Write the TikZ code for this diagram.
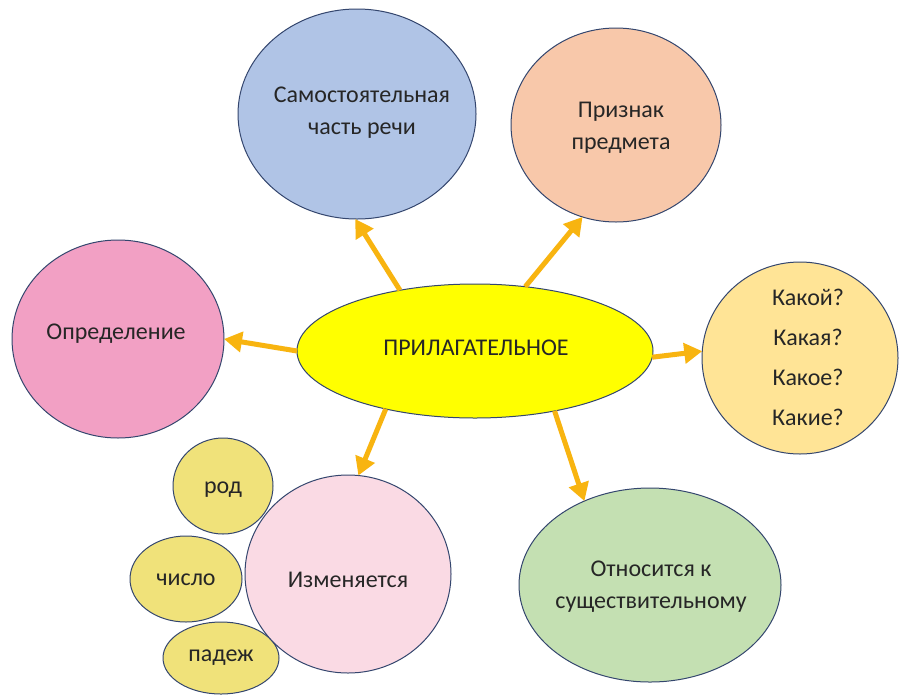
\documentclass[tikz,border=0pt]{standalone}
\usepackage{fontspec}
\setmainfont{Carlito}
\usetikzlibrary{shapes.geometric,arrows.meta}
\definecolor{edge}{RGB}{52,70,110}
\definecolor{gold}{RGB}{248,180,16}
\definecolor{cblue}{RGB}{176,196,230}
\definecolor{corange}{RGB}{248,200,170}
\definecolor{cpink}{RGB}{242,160,196}
\definecolor{cyellow}{RGB}{255,255,0}
\definecolor{cquest}{RGB}{255,228,150}
\definecolor{clpink}{RGB}{250,218,228}
\definecolor{csmall}{RGB}{240,226,122}
\definecolor{cgreen}{RGB}{196,224,178}
\tikzset{
  bub/.style={ellipse, draw=edge, line width=1pt, inner sep=0pt, outer sep=0pt},
  txt/.style={font=\fontsize{24}{32}\selectfont, text=black!85, align=center, inner sep=0pt},
  arr/.style={draw=gold, line width=5pt, -{Triangle[length=18pt,width=20pt]}}
}
\begin{document}
\begin{tikzpicture}[x=1pt,y=-1pt]
\useasboundingbox (0,0) rectangle (901,694);
\fill[white] (0,0) rectangle (901,694);
% small circles
\node[bub, fill=csmall, minimum width=100, minimum height=96] (rod) at (223,486) {};
\node[bub, fill=csmall, minimum width=112, minimum height=86] (chislo) at (186,579) {};
\node[bub, fill=csmall, minimum width=116, minimum height=72] (padezh) at (221,658) {};
% main bubbles
\node[bub, fill=cblue, minimum width=238, minimum height=210] (sam) at (357,114) {};
\node[bub, fill=corange, minimum width=210, minimum height=194] (priz) at (616,125) {};
\node[bub, fill=cpink, minimum width=212, minimum height=198] (opr) at (118,339) {};
\node[bub, fill=cyellow, minimum width=356, minimum height=134] (pril) at (475,351) {};
\node[bub, fill=cquest, minimum width=196, minimum height=192] (kak) at (800,358) {};
\node[bub, fill=clpink, minimum width=206, minimum height=198] (izm) at (348,574) {};
\node[bub, fill=cgreen, minimum width=262, minimum height=194] (otn) at (650,585) {};
% texts
\node[txt] (tsam) at (362,113) {Самостоятельная\\часть речи};
\node[txt] (tpriz) at (621,128) {Признак\\предмета};
\node[txt] (topr) at (116,334) {Определение};
\node[txt] (tpril) at (476,348) {ПРИЛАГАТЕЛЬНОЕ};
\node[txt, font=\fontsize{24}{40}\selectfont] (tkak) at (808,357) {Какой?\\Какая?\\Какое?\\Какие?};
\node[txt] (tizm) at (348,580) {Изменяется};
\node[txt] (totn) at (651,587) {Относится к\\существительному};
\node[txt] (trod) at (223,490) {род};
\node[txt] (tchislo) at (186,580) {число};
\node[txt] (tpadezh) at (221,658) {падеж};
% arrows
\draw[arr] (pril.141) -- (sam.269);
\draw[arr] (pril.52) -- (priz.250);
\draw[arr] (pril.180) -- (opr.0);
\draw[arr] (pril.358) -- (kak.176);
\draw[arr] (pril.213) -- (izm.84);
\draw[arr] (pril.323) -- (otn.128);
\end{tikzpicture}
\end{document}
